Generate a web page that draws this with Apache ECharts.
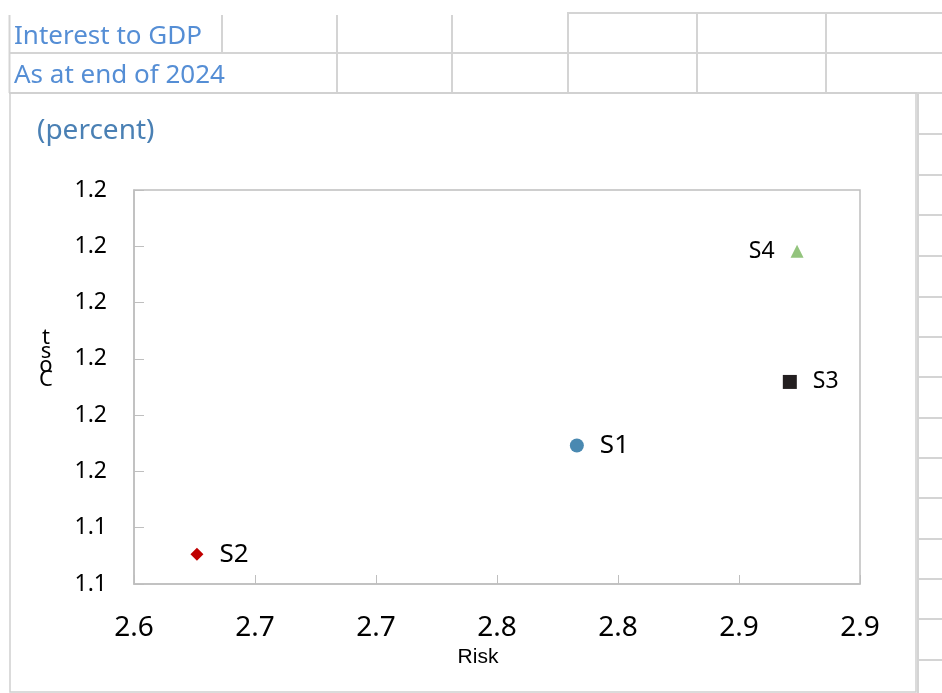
<!DOCTYPE html>
<html>
<head>
<meta charset="utf-8">
<script src="https://cdn.jsdelivr.net/npm/echarts@6/dist/echarts.min.js"></script>
<style>
html,body{margin:0;padding:0;background:#fff;}
#c{width:942px;height:693px;}
</style>
</head>
<body>
<div id="c"></div>
<script>
// ---- data ----
const pointNames = ['S1', 'S2', 'S3', 'S4'];
const riskValues = [2.783, 2.626, 2.871, 2.874];
const costValues = [1.1546, 1.1353, 1.1659, 1.1891];
const titleLines = ['Interest to GDP', 'As at end of 2024'];
const unitLabel = '(percent)';
const xAxisName = 'Risk';
const yAxisName = 'Cost';

// ---- styles (kept separate from data) ----
const markerStyles = [
  { symbol: 'circle', size: 14, color: '#4a89b1', labelPos: 'right', fontSize: 26 },
  { symbol: 'diamond', size: 13, color: '#c00000', labelPos: 'right', fontSize: 26 },
  { symbol: 'rect', size: 14, color: '#231f20', labelPos: 'right', fontSize: 23 },
  { symbol: 'triangle', size: 13, color: '#93c47d', labelPos: 'left', fontSize: 23 }
];

const FONT = '"Noto Sans", "Open Sans", sans-serif';
const gridColor = '#d4d4d4';

// spreadsheet decoration
const deco = [];
function vline(x, y1, y2) {
  deco.push({ type: 'line', silent: true, z: -1, shape: { x1: x, y1: y1, x2: x, y2: y2 }, style: { stroke: gridColor, lineWidth: 2 } });
}
function hline(y, x1, x2) {
  deco.push({ type: 'line', silent: true, z: -1, shape: { x1: x1, y1: y, x2: x2, y2: y }, style: { stroke: gridColor, lineWidth: 2 } });
}
vline(9.5, 15, 93);
vline(222, 15, 53);
vline(337, 15, 93);
vline(452, 15, 93);
vline(568, 13, 93);
vline(697, 13, 93);
vline(826, 13, 93);
hline(13, 567, 942);
hline(53, 9, 942);
hline(93, 9, 942);
vline(918, 93, 693);
[134, 175, 215, 256, 297, 337, 377, 418, 458, 498, 539, 579, 619, 660].forEach(y => hline(y, 918, 942));
// chart area frame
deco.push({ type: 'rect', silent: true, z: -1, shape: { x: 10, y: 93, width: 906, height: 599 }, style: { fill: 'none', stroke: '#d0d0d0', lineWidth: 1.5 } });
// y axis name (rendered as stacked letters like the reference)
deco.push({
  type: 'text', silent: true, z: 10, x: 46, y: 359,
  style: { text: yAxisName.split('').reverse().join('\n'), font: '22px ' + FONT, fill: '#000', textAlign: 'center', textVerticalAlign: 'middle', lineHeight: 14 }
});

const series = pointNames.map((n, i) => ({
  name: n,
  type: 'scatter',
  symbol: markerStyles[i].symbol,
  symbolSize: markerStyles[i].size,
  itemStyle: { color: markerStyles[i].color, opacity: 1 },
  label: {
    show: true,
    position: markerStyles[i].labelPos,
    distance: 16,
    formatter: '{a}',
    color: '#000',
    fontFamily: FONT,
    fontSize: markerStyles[i].fontSize
  },
  data: [[riskValues[i], costValues[i]]],
  z: 5
}));

const chart = echarts.init(document.getElementById('c'), null, { renderer: 'canvas' });
chart.setOption({
  animation: false,
  backgroundColor: '#fff',
  title: [
    { text: titleLines[0], left: 14, top: 24, textStyle: { color: '#558ed5', fontFamily: FONT, fontWeight: 'normal', fontSize: 26 }, padding: 0 },
    { text: titleLines[1], left: 14, top: 63, textStyle: { color: '#558ed5', fontFamily: FONT, fontWeight: 'normal', fontSize: 26 }, padding: 0 },
    { text: unitLabel, left: 37, top: 117, textStyle: { color: '#4a80b4', fontFamily: FONT, fontWeight: 'normal', fontSize: 28 }, padding: 0 }
  ],
  graphic: deco,
  grid: { left: 134, top: 190, width: 726, height: 394, show: true, borderColor: '#bfbfbf', borderWidth: 1.5, backgroundColor: 'transparent', containLabel: false, z: 3 },
  xAxis: {
    type: 'value',
    min: 2.6, max: 2.9, interval: 0.05,
    name: xAxisName,
    nameLocation: 'middle',
    nameGap: 62,
    nameTextStyle: { fontFamily: '"Liberation Sans", Arial, sans-serif', fontSize: 21, color: '#000', padding: [0, 38, 0, 0] },
    axisLine: { show: true, lineStyle: { color: '#bfbfbf', width: 1.5 } },
    axisTick: { show: true, inside: true, length: 9, lineStyle: { color: '#bfbfbf', width: 1 } },
    splitLine: { show: false },
    axisLabel: { color: '#000', fontFamily: FONT, fontSize: 28, margin: 30, formatter: v => (v + 1e-9).toFixed(1) }
  },
  yAxis: {
    type: 'value',
    min: 1.13, max: 1.20, interval: 0.01,
    axisLine: { show: true, lineStyle: { color: '#bfbfbf', width: 1.5 } },
    axisTick: { show: true, inside: true, length: 10, lineStyle: { color: '#bfbfbf', width: 1 } },
    splitLine: { show: false },
    axisLabel: { color: '#000', fontFamily: FONT, fontSize: 23, margin: 27, formatter: v => (v + 1e-9).toFixed(1) }
  },
  series: series
});
</script>
</body>
</html>
